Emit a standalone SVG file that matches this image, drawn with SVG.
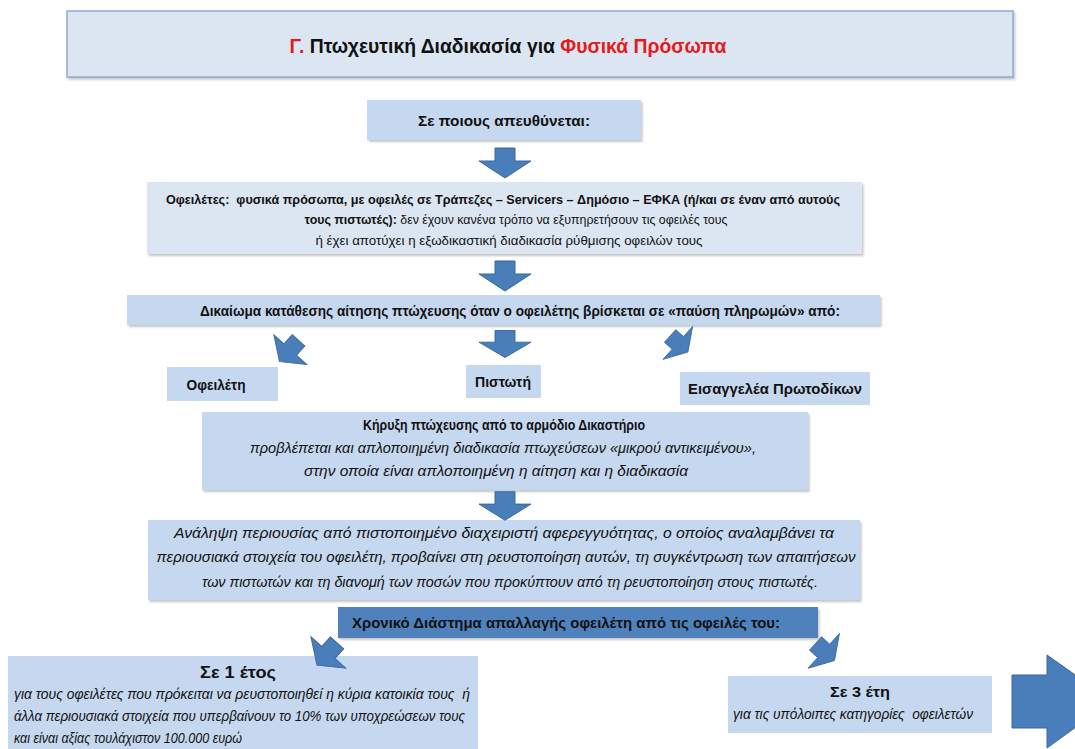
<svg xmlns="http://www.w3.org/2000/svg" width="1075" height="749" viewBox="0 0 1075 749">
<defs>
<style>
.t{font-family:"Liberation Sans",Arial,sans-serif;fill:#111;}
.b{font-weight:bold;}
.i{font-style:italic;}
.red{fill:#e31b1b;}
.light{fill:#dce6f2;}
.mid{fill:#c6d8ef;}
.dark{fill:#4f81bd;}
.arr{fill:#4a7ebb;stroke:#3a679c;stroke-width:1;}
</style>
<filter id="sh" x="-5%" y="-20%" width="110%" height="150%">
<feDropShadow dx="1.5" dy="2" stdDeviation="1" flood-color="#808080" flood-opacity="0.45"/>
</filter>
<polygon id="darrow" points="-10,-15 10,-15 10,-2 26,-2 0,15 -26,-2 -10,-2"/>
</defs>
<rect width="1075" height="749" fill="#ffffff"/>

<g id="title">
<rect x="67" y="11" width="946" height="66" class="light" stroke="#8eacd6" stroke-width="1.5" filter="url(#sh)"/>
<text class="t b" x="508" y="53" font-size="20" text-anchor="middle" textLength="437" lengthAdjust="spacingAndGlyphs"><tspan class="red">Γ.</tspan> Πτωχευτική Διαδικασία για <tspan class="red">Φυσικά Πρόσωπα</tspan></text>
</g>

<g id="node-target">
<rect x="367" y="100" width="274" height="40" class="mid" filter="url(#sh)"/>
<text class="t b" x="504" y="126" font-size="15.5" text-anchor="middle" textLength="172" lengthAdjust="spacingAndGlyphs">Σε ποιους απευθύνεται:</text>
</g>

<g id="node-debtors">
<rect x="147" y="182" width="715" height="72" class="light" filter="url(#sh)"/>
<text class="t b" x="503" y="204" font-size="13.5" text-anchor="middle" textLength="674" lengthAdjust="spacingAndGlyphs" xml:space="preserve">Οφειλέτες:  φυσικά πρόσωπα, με οφειλές σε Τράπεζες – Servicers – Δημόσιο – ΕΦΚΑ (ή/και σε έναν από αυτούς</text>
<text class="t" x="516" y="224" font-size="13.5" text-anchor="middle" textLength="423" lengthAdjust="spacingAndGlyphs"><tspan class="b">τους πιστωτές):</tspan> δεν έχουν κανένα τρόπο να εξυπηρετήσουν τις οφειλές τους</text>
<text class="t" x="509" y="245" font-size="13.5" text-anchor="middle" textLength="387" lengthAdjust="spacingAndGlyphs">ή έχει αποτύχει η εξωδικαστική διαδικασία ρύθμισης οφειλών τους</text>
</g>

<g id="node-right">
<rect x="127" y="295" width="753" height="30" class="mid" filter="url(#sh)"/>
<text class="t b" x="520" y="316" font-size="14.5" text-anchor="middle" textLength="640" lengthAdjust="spacingAndGlyphs">Δικαίωμα κατάθεσης αίτησης πτώχευσης όταν ο οφειλέτης βρίσκεται σε «παύση πληρωμών» από:</text>
</g>

<g id="node-debtor">
<rect x="167" y="367" width="111" height="34" class="mid"/>
<text class="t b" x="216" y="390" font-size="15" text-anchor="middle" textLength="59" lengthAdjust="spacingAndGlyphs">Οφειλέτη</text>
</g>

<g id="node-creditor">
<rect x="466" y="365" width="75" height="33" class="mid"/>
<text class="t b" x="503" y="387" font-size="15" text-anchor="middle" textLength="56" lengthAdjust="spacingAndGlyphs">Πιστωτή</text>
</g>

<g id="node-prosecutor">
<rect x="680" y="372" width="190" height="33" class="mid"/>
<text class="t b" x="775" y="394" font-size="15" text-anchor="middle" textLength="174" lengthAdjust="spacingAndGlyphs">Εισαγγελέα Πρωτοδίκων</text>
</g>

<g id="node-court">
<rect x="202" y="412" width="606" height="78" class="mid" filter="url(#sh)"/>
<text class="t b" x="504" y="430" font-size="15.5" text-anchor="middle" textLength="282" lengthAdjust="spacingAndGlyphs">Κήρυξη πτώχευσης από το αρμόδιο Δικαστήριο</text>
<text class="t i" x="503" y="453" font-size="14.5" text-anchor="middle" textLength="506" lengthAdjust="spacingAndGlyphs">προβλέπεται και απλοποιημένη διαδικασία πτωχεύσεων «μικρού αντικειμένου»,</text>
<text class="t i" x="496" y="476" font-size="14.5" text-anchor="middle" textLength="384" lengthAdjust="spacingAndGlyphs">στην οποία είναι απλοποιημένη η αίτηση και η διαδικασία</text>
</g>

<g id="node-administrator">
<rect x="148" y="520" width="712" height="80" class="mid" filter="url(#sh)"/>
<text class="t i" x="504" y="538" font-size="14.5" text-anchor="middle" textLength="660" lengthAdjust="spacingAndGlyphs">Ανάληψη περιουσίας από πιστοποιημένο διαχειριστή αφερεγγυότητας, ο οποίος αναλαμβάνει τα</text>
<text class="t i" x="506" y="562" font-size="14.5" text-anchor="middle" textLength="699" lengthAdjust="spacingAndGlyphs">περιουσιακά στοιχεία του οφειλέτη, προβαίνει στη ρευστοποίηση αυτών, τη συγκέντρωση των απαιτήσεων</text>
<text class="t i" x="510" y="587" font-size="14.5" text-anchor="middle" textLength="616" lengthAdjust="spacingAndGlyphs">των πιστωτών και τη διανομή των ποσών που προκύπτουν από τη ρευστοποίηση στους πιστωτές.</text>
</g>

<g id="node-period">
<rect x="338" y="607" width="480" height="31" class="dark" filter="url(#sh)"/>
<text class="t b" x="352" y="628" font-size="15.5" textLength="428" lengthAdjust="spacingAndGlyphs">Χρονικό Διάστημα απαλλαγής οφειλέτη από τις οφειλές του:</text>
</g>

<g id="node-one-year">
<rect x="8" y="656" width="470" height="95" class="mid"/>
<text class="t b" x="238" y="678" font-size="16.5" text-anchor="middle" textLength="76" lengthAdjust="spacingAndGlyphs">Σε 1 έτος</text>
<text class="t i" x="14" y="699" font-size="14" textLength="456" lengthAdjust="spacingAndGlyphs" xml:space="preserve">για τους οφειλέτες που πρόκειται να ρευστοποιηθεί η κύρια κατοικία τους  ή</text>
<text class="t i" x="14" y="721" font-size="14" textLength="451" lengthAdjust="spacingAndGlyphs">άλλα περιουσιακά στοιχεία που υπερβαίνουν το 10% των υποχρεώσεων τους</text>
<text class="t i" x="14" y="743" font-size="14" textLength="228" lengthAdjust="spacingAndGlyphs">και είναι αξίας τουλάχιστον 100.000 ευρώ</text>
</g>

<g id="node-three-years">
<rect x="728" y="676" width="264" height="57" class="mid"/>
<text class="t b" x="860" y="697" font-size="15.5" text-anchor="middle" textLength="60" lengthAdjust="spacingAndGlyphs">Σε 3 έτη</text>
<text class="t i" x="853" y="719" font-size="14" text-anchor="middle" textLength="240" lengthAdjust="spacingAndGlyphs" xml:space="preserve">για τις υπόλοιπες κατηγορίες  οφειλετών</text>
</g>

<g id="connectors">
<use href="#darrow" class="arr" transform="translate(505,163)"/>
<use href="#darrow" class="arr" transform="translate(505,276)"/>
<use href="#darrow" class="arr" transform="translate(505,344) scale(1,0.9)"/>
<use href="#darrow" class="arr" transform="translate(505,506) scale(1,0.95)"/>
<use href="#darrow" class="arr" transform="translate(289,351) rotate(42) scale(0.85,0.95)"/>
<use href="#darrow" class="arr" transform="translate(679,344) rotate(-48) scale(0.85,0.8)"/>
<use href="#darrow" class="arr" transform="translate(327,654) rotate(42) scale(0.9,1)"/>
<use href="#darrow" class="arr" transform="translate(825,652) rotate(-48) scale(0.9,0.85)"/>
<polygon class="arr" points="1012,675 1047,675 1047,655 1112,701 1047,748 1047,728 1012,728"/>
</g>
</svg>
